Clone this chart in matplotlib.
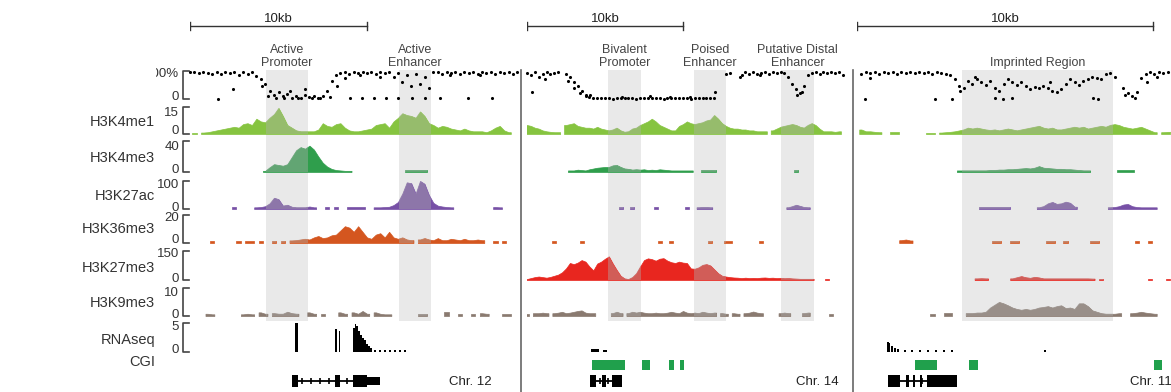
import matplotlib.pyplot as plt
import numpy as np
from matplotlib.patches import Rectangle
from matplotlib.transforms import Bbox, TransformedBbox

plt.rcParams['font.family'] = ['Liberation Sans', 'DejaVu Sans']

n = np.nan
W, H = 1171, 392

# ------------------------------------------------------------------
# Data (signal values sampled on a regular grid per panel, kb units)
# ------------------------------------------------------------------
track_names = ['H3K4me1', 'H3K4me3', 'H3K27ac', 'H3K36me3', 'H3K27me3', 'H3K9me3']
track_max = [100, 15, 40, 100, 20, 150, 10, 5]
track_max_labels = ['100%', '15', '40', '100', '20', '150', '10', '5']

# panel 1 (Chr. 12), step 0.25 kb
p1_meth = [95, 98, 92, 97, 94, 88, 96, 91, 97, 93,
           96, 87, 95, 90, 96, 82, 70, 55, 30, 15,
           25, 10, 18, 5, 12, 4, 15, 6, 10, 4,
           12, 30, 65, 85, 92, 96, 90, 97, 93, 98,
           94, 96, 90, 97, 93, 98, 80, 92, 60, 85,
           45, 90, 55, 80, 40, 95, 97, 90, 96, 93,
           98, 88, 96, 92, 97, 90, 96, 94, 98, 91,
           96, 93, 97, 90, 95]
p1_meth_xx = [1.58, 2.43, 4.07, 4.41, 4.86, 5.31, 5.65, 6.10, 6.50, 6.89, 7.34, 7.91, 8.31,
              9.04, 9.72, 10.40, 11.07, 11.75, 12.54, 13.28, 14.12, 15.71, 17.06,
              8.76, 9.60, 10.73, 14.69, 16.38]
p1_meth_xy = [0, 35, 45, 10, 3, 5, 30, 2, 35, 3, 5, 8, 45,
              2, 3, 2, 3, 5, 2, 4, 2, 3, 2,
              75, 85, 80, 85, 85]
p1_k4me1 = [n, 0.5, n, 0.8, 1.0, 1.5, 2.0, 2.5, 3.0, 3.5,
            4.0, 3.5, 5.5, 6.0, 5.0, 8.5, 7.0, 6.5, 9.0, 11.0,
            14.5, 10.0, 5.0, 3.5, 2.0, 1.5, 1.5, 1.5, 1.5, 2.5,
            6.0, 4.5, 4.0, 5.5, 6.0, 3.5, 2.0, 1.5, 1.5, 2.0,
            2.5, 3.0, 5.0, 5.5, 6.0, 3.5, 7.0, 9.0, 11.5, 10.5,
            10.0, 9.0, 12.5, 10.0, 6.0, 5.0, 3.5, 4.5, 4.0, 3.0,
            2.5, 2.0, 3.0, 2.0, 1.5, 1.5, 1.5, 1.0, 2.0, 3.5,
            4.5, 2.0, 1.0, n, n]
p1_k4me3 = [n, n, n, n, n, n, n, n, n, n,
            n, n, n, n, n, n, n, 1.5, 6, 10,
            9, 8, 10, 19, 28, 32, 30, 34, 29, 20,
            12, 7, 4, 2.5, 2, 1.5, 1.5, n, n, n,
            n, n, n, n, n, n, n, n, n, 2.5,
            2.5, 2.5, 2.5, 2.5, n, n, n, n, n, n,
            n, n, n, n, n, n, n, n, n, n,
            n, n, n, n, n]
p1_k27ac = [n, n, n, n, n, n, n, n, n, n,
            6, n, n, n, n, 6, 7, 10, 20, 40,
            35, 12, 15, 8, 6, 6, 6, 9, 6, n,
            n, 6, n, 6, n, n, 6, 6, 6, 6,
            n, n, 6, 6, 7, 8, 14, 25, 55, 95,
            92, 55, 100, 90, 50, 22, 12, 9, 7, 6,
            n, n, n, n, n, n, n, n, n, 7,
            6, n, n, n, n]
p1_k36me3 = [n, n, n, n, n, 1.5, n, n, n, n,
             n, 1.5, n, 1.5, 1.5, n, 1.5, n, n, 1.5,
             n, 1.5, n, 1.8, 2, 2.5, 3, 2.5, 4, 5,
             3.5, 4, 5.5, 6, 9, 12, 11, 8, 12, 8,
             4, 3, 6, 7, 4, 8, 4, 3, 4, 2.5,
             2, n, 2.5, 3.5, 2.5, 2, 3.5, 2, 2, 3,
             2.5, 2, 3, 2, 2, 2.5, 2, n, n, 1.5,
             n, 1.5, n, n, n]
p1_k27me3 = []
p1_k9me3 = [n, n, n, n, 0.8, 0.6, n, n, n, n,
            n, n, 0.6, 0.8, 0.6, n, 1.3, 0.8, n, 1.0,
            0.8, 0.8, 1.5, 1.0, 0.8, n, n, 1.3, 0.8, n,
            0.6, n, n, n, 1.3, 0.8, n, 1.3, 0.8, 1.8,
            0.8, n, 1.3, 0.8, 0.6, 0.6, n, n, n, n,
            n, n, 0.6, 0.6, n, n, n, n, 1.3, n,
            n, 0.8, n, n, 0.8, n, 1.0, 0.8, n, n,
            n, 0.8, 0.8, n, n]
p1_rna_x = [5.99, 6.07, 8.25, 8.45, 9.27, 9.35, 9.44, 9.55, 9.66, 9.77, 9.89, 10.0, 10.11,
            10.23, 10.45, 10.73, 11.02, 11.3, 11.58, 11.86, 12.15]
p1_rna_h = [5.2, 5.0, 4.0, 3.6, 4.2, 4.8, 4.4, 3.6, 3.0, 2.4, 2.0, 1.3, 1.0,
            0.7, 0.4, 0.4, 0.4, 0.4, 0.4, 0.4, 0.4]
p1_cgi = []
p1_exons = [(5.76, 6.10, 12), (8.19, 8.47, 12), (9.21, 10.0, 12), (10.0, 10.73, 8)]
p1_intron = (6.10, 9.21)
p1_shades = [(4.3, 6.67), (11.8, 13.6)]
p1_shade_labels = ['Active\nPromoter', 'Active\nEnhancer']

# panel 2 (Chr. 14), step 0.25 kb
p2_meth = [92, 85, 95, 80, 90, 96, 88, 93, 98, n,
           90, 80, 60, 45, 30, 15, 8, 3, 4, 2,
           2, 3, 1, 3, 2, 4, 2, 3, 1, 2,
           3, 2, 4, 2, 3, 1, 3, 2, 2, 4,
           3, 2, 1, 3, 2, 3, 2, 4, 2, n,
           n, 88, 92, n, n, 85, 95, 90, 97, 88,
           94, 98, 90, 96, 92, 97, 93, 80, 55, 35,
           20, 45, 85, 93, 97, 90, 96, 92, 98, 94,
           97, 85]
p2_meth_xx = [0.32, 1.15, 2.63, 3.01, 3.40, 3.78, 4.04, 6.09, 7.88, 9.17, 10.45, 12.05,
              13.65, 14.94, 17.31, 17.63]
p2_meth_xy = [25, 70, 65, 40, 20, 10, 15, 8, 10, 6, 8, 26, 80, 85, 15, 25]
p2_k4me1 = [5, 4.5, 3.5, 3, 2, 1.5, 1.2, 1, 1, n,
            5, 5.5, 6, 4.5, 4, 3.5, 3.5, 3, 4, 3,
            2.5, 2, 2.5, 3.5, 2, 1.2, 1.5, 3, 3.5, 5,
            6, 7, 8.5, 7, 5, 4, 3, 2, 2, 4.5,
            5.5, 7, 6, 5.5, 6, 6.5, 7.5, 8, 10.5, 8.5,
            6, 4.5, 3.5, 3, 3, 2.5, 2.5, 2, 2, 1.5,
            1.5, 1.5, n, 2, 3, 4, 4.5, 5, 5.5, 5,
            4, 3.5, 5, 6, 5, 3, 1.5, 1.5, 1.5, 1.2,
            1.5, n]
p2_k4me3 = [n, n, n, n, n, n, n, n, n, n,
            n, 2, 2, 3, 2.5, 2, 3.5, 4.5, 5.5, 6,
            6.5, 6.5, 8.5, 9, 6.5, 4.5, 4, 3, 3.5, 3,
            3.5, 2.5, 3, 2.5, 3.5, 3, 2.5, 2, 2, 2,
            2, 2, 2, n, n, 2, 2, 2, 2, n,
            n, n, n, n, n, n, n, n, n, n,
            n, n, n, n, n, n, n, n, n, 2,
            n, n, n, n, n, n, n, n, n, n,
            n, n]
p2_k27ac = [n, n, n, n, n, n, n, n, n, n,
            n, n, n, n, n, n, n, n, n, n,
            n, n, n, n, 6, n, n, 6, n, n,
            n, n, n, 6, n, n, n, n, n, n,
            n, 6, n, n, 6, 7, 7, 6, n, n,
            n, n, n, n, n, n, n, n, n, n,
            n, n, n, n, n, n, n, 6, 10, 15,
            11, 7, 6, n, n, n, n, n, n, n,
            n, n]
p2_k36me3 = [n, n, n, n, n, n, n, 1.5, n, n,
             n, n, n, n, 1.5, n, n, n, n, n,
             n, n, n, n, n, n, n, n, n, n,
             n, n, n, n, 1.5, n, n, 1.2, n, n,
             n, n, n, n, n, n, n, 1.2, n, n,
             n, 1.5, 1.5, n, n, n, n, n, n, n,
             1.2, n, n, n, n, n, n, n, n, n,
             n, n, n, n, n, n, n, n, n, n,
             n, n]
p2_k27me3 = [5, 10, 15, 18, 15, 12, 16, 22, 28, 40,
             60, 88, 82, 90, 103, 95, 70, 50, 85, 95,
             110, 122, 85, 52, 22, 8, 5, 15, 35, 70,
             103, 112, 108, 100, 110, 113, 100, 92, 88, 95,
             90, 88, 60, 58, 65, 78, 82, 75, 55, 35,
             22, 18, 15, 13, 12, 10, 12, 10, 11, 10,
             12, 13, 11, 12, 10, 11, 9, 10, 8, 7,
             6, 6, 6, 6, n, n, n, 6, n, n,
             n, n]
p2_k9me3 = [0.8, n, 1, 1, 1.2, 1, n, 1, 1.2, 1.5,
            1, 1.2, 1.5, 1.8, 2, 1.2, 1, 1, n, n,
            n, n, 1, 1.5, 1, n, 1, 1.5, 1.2, 1.5,
            1.2, 1, 1, 1.2, 1, 1, 1.2, 1.5, 1.2, 1,
            1.8, 1.2, 1, 1.2, 1, 1.5, 1.2, 1, 1.2, n,
            1, 0.8, n, 1, 0.8, n, 1, 1.2, 1.6, 1.2,
            1, n, n, n, n, 1, 1.2, 1, n, n,
            n, 1, 1.2, n, n, n, n, n, 0.8, n,
            n, n]
p2_rna_x = [4.17, 4.29, 4.42, 4.55, 4.94, 5.06]
p2_rna_h = [0.6, 0.6, 0.6, 0.6, 0.4, 0.4]
p2_cgi = [(4.17, 6.28), (7.37, 7.88), (9.10, 9.42), (9.81, 10.06)]
p2_exons = [(4.04, 4.42, 12), (4.81, 5.06, 12), (5.45, 6.09, 12)]
p2_intron = (4.42, 5.45)
p2_shades = [(5.2, 7.3), (10.7, 12.75), (16.3, 18.4)]
p2_shade_labels = ['Bivalent\nPromoter', 'Poised\nEnhancer', 'Putative Distal\nEnhancer']

# panel 3 (Chr. 11), step 0.15 kb
p3_meth = [n, 88, 95, 92, 96, 90, 97, 93, 96, 91,
           97, 94, 98, 92, 96, 93, 97, 90, 95, 92,
           88, 85, 70, 45, 40, 65, 55, 70, 60, 50,
           65, 40, 30, 55, 70, 60, 50, 62, 45, 35,
           42, 38, 45, 40, 30, 25, 35, 55, 70, 60,
           50, 65, 72, 80, 75, 70, 88, 92, 80, n,
           40, 20, 10, 25, 75, 90, 95, 88, 96, 92,
           97]
p3_meth_xx = [0.27, 0.44, 2.64, 3.21, 3.48, 3.99, 4.66, 4.93, 5.24, 6.52, 7.97, 8.14,
              9.05, 9.39, 9.80, 10.14]
p3_meth_xy = [0, 75, 0, 0, 30, 80, 2, 0, 2, 60, 2, 0, 15, 5, 60, 80]
p3_k4me1 = [n, 2.5, 1.5, 1.5, 1.2, 1, n, n, 1, 1,
            n, n, n, n, n, n, 0.8, 0.8, n, 0.8,
            1, 1.2, 1.5, 2, 2.5, 3.5, 3, 3.5, 3, 2.5,
            2.2, 2.5, 2, 2.5, 3, 2.5, 2, 2.5, 3, 3.5,
            4, 4.5, 3.5, 3, 3.5, 2.5, 2.5, 3, 3.5, 4,
            3.5, 4, 3, 3.5, 4, 4.5, 4, 5, 5.5, 5,
            4, 3.5, 3, 3.5, 4, 3, 2, 1, n, 1,
            1.2]
p3_k4me3 = [n, n, n, n, n, n, n, n, n, n,
            n, n, n, n, n, n, n, n, n, n,
            n, n, n, 2, 2, 2, 2, 2, 2, 2,
            2.5, 2.5, 3, 3, 3.5, 3.5, 4, 4.5, 5, 4.5,
            5.5, 7.5, 5.5, 5, 4.5, 4, 4, 3.5, 3.5, 3,
            2.5, 2, 2, n, n, n, n, n, n, 2,
            2, 2, 2, n, n, n, n, n, n, n,
            n]
p3_k27ac = [n, n, n, n, n, n, n, n, n, n,
            n, n, n, n, n, n, n, n, n, n,
            n, n, n, n, n, n, n, n, 6, 6,
            6, 6, 6, 6, 6, n, n, n, n, n,
            n, 6, 10, 20, 25, 18, 20, 26, 22, 8,
            n, n, n, n, n, n, n, 6, 7, 10,
            16, 18, 10, 7, 6, 6, 6, 6, n, n,
            n]
p3_k36me3 = [n, n, n, n, n, n, n, n, n, n,
             2, 2.5, 1.8, n, n, n, n, n, n, n,
             n, n, n, n, n, n, n, n, n, n,
             n, 1.5, 1.5, n, n, 1.5, 1.5, n, n, n,
             n, n, n, 1.2, 1.2, n, n, 1.2, n, n,
             n, n, n, 1.2, 1.2, n, n, n, n, n,
             n, n, n, 1.2, n, n, 1.2, n, n, n,
             n]
p3_k27me3 = [n, n, n, n, n, n, n, n, n, n,
             n, n, n, n, n, n, n, n, n, n,
             n, n, n, n, n, n, n, 8, 9, 8,
             n, n, n, n, n, 8, 14, 20, 14, 11,
             16, 13, 8, 8, 8, 8, 8, 8, 8, 8,
             8, 8, 8, 7, n, 7, n, n, n, n,
             n, n, n, n, n, n, 7, n, n, n,
             7]
p3_k9me3 = [n, n, n, n, n, n, n, n, n, n,
            n, n, n, n, n, n, n, 0.8, n, n,
            1, 1, n, n, n, 1, 1, 1.2, 1.2, 1.5,
            3, 4, 5, 4.5, 3.8, 3, 2.5, 2.2, 2.5, 2.2,
            2.5, 3, 3.2, 3.5, 3, 3.5, 3.8, 2.8, 3, 2.5,
            4.5, 4.5, 3.5, 2, 1.5, 1, 0.8, 0.8, 0.8, 1,
            n, n, 1, 1.2, 1.5, 1.2, 1, 0.8, n, n,
            n]
p3_rna_x = [1.05, 1.10, 1.18, 1.28, 1.39, 1.62, 1.86, 2.13, 2.40, 2.67, 2.94, 3.21, 6.35]
p3_rna_h = [1.8, 1.6, 1.0, 0.7, 0.5, 0.4, 0.4, 0.4, 0.4, 0.4, 0.4, 0.4, 0.3]
p3_cgi = [(1.96, 2.70), (3.78, 4.09), (10.03, 10.30)]
p3_exons = [(1.05, 1.45, 12), (1.66, 1.74, 12), (1.89, 1.97, 12), (2.13, 2.21, 12), (2.36, 3.38, 12)]
p3_intron = (1.45, 2.36)
p3_shades = [(3.55, 8.65)]
p3_shade_labels = ['Imprinted Region']

chrom_labels = ['Chr. 12', 'Chr. 14', 'Chr. 11']

# ------------------------------------------------------------------
# Layout (pixels of the 1171x392 canvas)
# ------------------------------------------------------------------
panel_left = [190, 527, 857]
panel_ppk = [17.7, 15.6, 29.6]      # pixels per kb
panel_span = [18.5, 20.5, 10.61]    # kb shown
panel_step = [0.25, 0.25, 0.15]     # sample spacing, kb
chrom_pos = [(470, 'center'), (817, 'center'), (1130, 'left')]

row_top = [71, 107, 141, 181, 215, 251, 288, 323]
row_bot = [99, 134, 172, 209, 243, 280, 316, 352]
lab_top = [74, 113, 147, 185, 218, 254, 293, 327]
lab_zero = [97, 131, 170, 208, 240, 279, 315, 350]
name_y = [122, 158, 196, 229, 268, 303]

colors = ['#86c440', '#2f9e4c', '#7750a6', '#d4561f', '#e8261f', '#8a7a70']
cgi_color = '#20a04c'
shade_color = '#e9e9e9'

panels = [
    dict(meth=p1_meth, mx=p1_meth_xx, my=p1_meth_xy,
         sig=[p1_k4me1, p1_k4me3, p1_k27ac, p1_k36me3, p1_k27me3, p1_k9me3],
         rx=p1_rna_x, rh=p1_rna_h, cgi=p1_cgi, exons=p1_exons, intron=p1_intron,
         shades=p1_shades, slabels=p1_shade_labels),
    dict(meth=p2_meth, mx=p2_meth_xx, my=p2_meth_xy,
         sig=[p2_k4me1, p2_k4me3, p2_k27ac, p2_k36me3, p2_k27me3, p2_k9me3],
         rx=p2_rna_x, rh=p2_rna_h, cgi=p2_cgi, exons=p2_exons, intron=p2_intron,
         shades=p2_shades, slabels=p2_shade_labels),
    dict(meth=p3_meth, mx=p3_meth_xx, my=p3_meth_xy,
         sig=[p3_k4me1, p3_k4me3, p3_k27ac, p3_k36me3, p3_k27me3, p3_k9me3],
         rx=p3_rna_x, rh=p3_rna_h, cgi=p3_cgi, exons=p3_exons, intron=p3_intron,
         shades=p3_shades, slabels=p3_shade_labels),
]


def track_axes(left, width, top, bottom, xmax, ymax):
    ax = fig.add_axes([left / W, 1 - bottom / H, width / W, (bottom - top) / H])
    ax.set_xlim(0, xmax)
    ax.set_ylim(0, ymax)
    ax.axis('off')
    ax.patch.set_visible(False)
    ax.set_zorder(3)
    return ax


def draw_signal(ax, vals, step, color, shades):
    v = np.array(vals, dtype=float)
    if v.size == 0:
        return
    x = np.arange(len(v)) * step
    ok = ~np.isnan(v)
    i = 0
    while i < len(v):
        if not ok[i]:
            i += 1
            continue
        j = i
        while j + 1 < len(v) and ok[j + 1]:
            j += 1
        xs = np.r_[x[i] - step / 2, x[i:j + 1], x[j] + step / 2]
        ys = np.r_[v[i], v[i:j + 1], v[j]]
        poly = ax.fill_between(xs, 0, ys, color=color, lw=0.5)
        # shaded regions tint the signal that sits inside them
        for a, b in shades:
            r = ax.axvspan(a, b, color='#b0b0b0', alpha=0.4, lw=0)
            r.set_clip_path(poly.get_paths()[0], ax.transData)
        i = j + 1


fig = plt.figure(figsize=(W / 100, H / 100), dpi=100)

# overlay axes in pixel units for the left-hand labels and separators
ov = fig.add_axes([0, 0, 1, 1])
ov.set_xlim(0, W)
ov.set_ylim(H, 0)
ov.axis('off')

for k in range(8):
    top, bot = row_top[k], row_bot[k]
    ov.plot([189, 183, 183, 189], [top, top, bot, bot], color='#444444', lw=1.2)
    t = ov.text(179, lab_top[k], track_max_labels[k], ha='right', va='center',
                fontsize=9.5, color='#333333')
    if k == 0:
        t.set_clip_on(True)
        t.set_clip_box(TransformedBbox(Bbox([[156, 0], [200, H]]), ov.transData))
    ov.text(179, lab_zero[k], '0', ha='right', va='center', fontsize=9.5, color='#333333')
for k, name in enumerate(track_names):
    ov.text(155, name_y[k], name, ha='right', va='center', fontsize=10.5, color='#333333')
ov.text(155, 340, 'RNAseq', ha='right', va='center', fontsize=10.5, color='#333333')
ov.text(155, 362, 'CGI', ha='right', va='center', fontsize=10.5, color='#333333')

for xs in [521, 853]:
    ov.plot([xs, xs], [70, H], color='#666666', lw=1.2)

for p, d in enumerate(panels):
    left, ppk, span, step = panel_left[p], panel_ppk[p], panel_span[p], panel_step[p]
    width = span * ppk

    # background panel axes: kb horizontally, pixels vertically
    bg = fig.add_axes([left / W, 0, width / W, 1])
    bg.set_xlim(0, span)
    bg.set_ylim(H, 0)
    bg.axis('off')
    bg.patch.set_visible(False)
    bg.set_zorder(2)

    for (a, b), lab in zip(d['shades'], d['slabels']):
        bg.add_patch(Rectangle((a, 70), b - a, 251, color=shade_color, lw=0, zorder=0))
        bg.text((a + b) / 2, 69, lab, ha='center', va='bottom', fontsize=9,
                color='#444444', linespacing=1.15)

    # 10 kb scale bar
    bg.plot([0, 10], [26, 26], color='#333333', lw=1)
    bg.plot([0, 0], [22, 30], color='#333333', lw=1)
    bg.plot([10, 10], [22, 30], color='#333333', lw=1)
    bg.text(5, 19, '10kb', ha='center', va='center', fontsize=9.5, color='#222222')

    # CpG islands
    for a, b in d['cgi']:
        bg.add_patch(Rectangle((a, 360), b - a, 10, color=cgi_color, lw=0))

    # gene model
    s, e = d['intron']
    bg.plot([s, e], [381, 381], color='black', lw=1.3)
    marks = np.arange(s + 0.25, e - 0.1, 0.5)
    bg.plot(marks, np.full(len(marks), 381), ls='none', marker='|', ms=4, mew=1.2, color='black')
    for a, b, hgt in d['exons']:
        bg.add_patch(Rectangle((a, 381 - hgt / 2), b - a, hgt, color='black', lw=0))

    # methylation dots
    ax = track_axes(left, width, row_top[0], row_bot[0], span, 100)
    mv = np.array(d['meth'], dtype=float)
    ax.scatter(np.arange(len(mv)) * step, mv, s=5, c='black', lw=0, clip_on=False)
    ax.scatter(d['mx'], d['my'], s=5, c='black', lw=0, clip_on=False)

    # histone tracks
    for k, vals in enumerate(d['sig']):
        ax = track_axes(left, width, row_top[k + 1], row_bot[k + 1], span, track_max[k + 1])
        draw_signal(ax, vals, step, colors[k], d['shades'])

    # RNA-seq
    ax = track_axes(left, width, row_top[7], row_bot[7], span, 5)
    ax.bar(d['rx'], d['rh'], width=0.08 if p != 2 else 0.06, color='black', lw=0)

    cx, ha = chrom_pos[p]
    ov.text(cx, 382, chrom_labels[p], ha=ha, va='center', fontsize=9.5, color='#222222')

fig.savefig('out.png', dpi=100)
